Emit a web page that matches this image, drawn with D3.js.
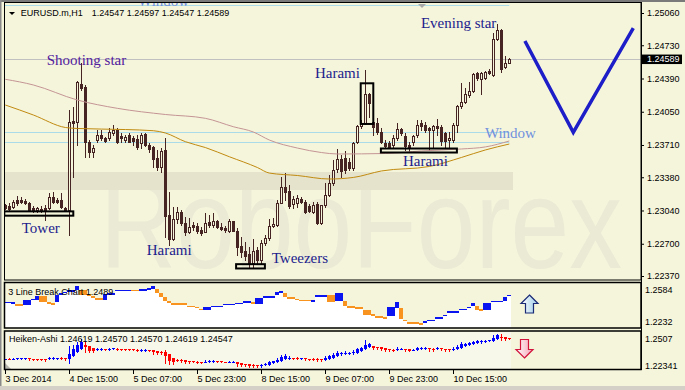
<!DOCTYPE html>
<html>
<head>
<meta charset="utf-8">
<script src="https://cdn.jsdelivr.net/npm/d3@7"></script>
<style>
  body { margin: 0; background: #f5f5dc; }
  svg { display: block; font-family: "Liberation Sans", Arial, sans-serif; }
</style>
</head>
<body>
<script>
// EURUSD.m H1 bars, first bar 3 Dec 2014 23:00
var opens = [1.23096,1.23086,1.23079,1.23147,1.23147,1.23137,1.23114,1.23063,1.23045,1.23055,
  1.23066,1.23063,1.23181,1.23147,1.23147,1.23063,1.23045,1.23955,1.23945,1.24334,
  1.24303,1.23741,1.23638,1.23761,1.23812,1.23782,1.23782,1.23833,1.23863,1.23802,
  1.23761,1.23812,1.23778,1.23771,1.23727,1.23822,1.23710,1.23687,1.23574,1.23488,
  1.23659,1.22994,1.22745,1.22950,1.23028,1.22915,1.22823,1.22889,1.22882,1.22841,
  1.22823,1.22922,1.22892,1.22936,1.22874,1.22858,1.22833,1.22930,1.22833,1.22677,
  1.22629,1.22595,1.22500,1.22636,1.22534,1.22711,1.22756,1.22882,1.22892,1.23120,
  1.23277,1.23243,1.23107,1.23114,1.23155,1.23130,1.23086,1.23028,1.23107,1.22909,
  1.23096,1.23199,1.23318,1.23461,1.23564,1.23574,1.23540,1.23472,1.23744,1.23904,
  1.23935,1.24232,1.23948,1.23938,1.23846,1.23727,1.23733,1.23710,1.23778,1.23871,
  1.23802,1.23710,1.23744,1.23812,1.23932,1.23915,1.23881,1.23863,1.23904,1.23891,
  1.23830,1.23761,1.23761,1.23915,1.24109,1.24153,1.24221,1.24265,1.24443,1.24382,
  1.24392,1.24470,1.24426,1.24791,1.24886,1.24505,1.24547];
var highs = [1.23107,1.23117,1.23147,1.23188,1.23178,1.23158,1.23130,1.23086,1.23079,1.23086,
  1.23096,1.23222,1.23232,1.23165,1.23216,1.23079,1.24068,1.24099,1.24365,1.24549,
  1.24324,1.23761,1.23710,1.23863,1.23863,1.23795,1.23881,1.23915,1.23881,1.23833,
  1.23812,1.23833,1.23802,1.23812,1.23830,1.23830,1.23727,1.23700,1.23659,1.23676,
  1.23778,1.23232,1.23079,1.23079,1.23045,1.22977,1.22960,1.22925,1.22909,1.22874,
  1.23011,1.22994,1.23011,1.22943,1.22909,1.22882,1.22950,1.22933,1.22858,1.22772,
  1.22721,1.22670,1.22745,1.22670,1.22738,1.22789,1.22950,1.22960,1.23147,1.23386,
  1.23427,1.23301,1.23188,1.23199,1.23181,1.23147,1.23107,1.23130,1.23130,1.23096,
  1.23318,1.23403,1.23557,1.23666,1.23608,1.23652,1.23574,1.23744,1.23915,1.23966,
  1.24477,1.24242,1.23986,1.23986,1.23884,1.23761,1.23754,1.23812,1.23932,1.23881,
  1.23830,1.23744,1.23812,1.23966,1.23966,1.23948,1.23897,1.23915,1.23973,1.23915,
  1.23846,1.23846,1.23932,1.24119,1.24341,1.24290,1.24357,1.24443,1.24460,1.24460,
  1.24470,1.24484,1.24852,1.24948,1.24893,1.24620,1.24597];
var lows = [1.23055,1.23045,1.23066,1.23096,1.23117,1.23107,1.23038,1.23028,1.23028,1.23028,
  1.22943,1.23052,1.23114,1.23114,1.23063,1.23038,1.22789,1.23383,1.23710,1.24272,
  1.23587,1.23587,1.23587,1.23741,1.23761,1.23744,1.23761,1.23812,1.23733,1.23744,
  1.23741,1.23741,1.23710,1.23666,1.23676,1.23700,1.23641,1.23482,1.23454,1.23437,
  1.22772,1.22687,1.22738,1.22909,1.22892,1.22789,1.22807,1.22841,1.22807,1.22789,
  1.22823,1.22874,1.22874,1.22858,1.22841,1.22823,1.22823,1.22830,1.22585,1.22568,
  1.22534,1.22465,1.22465,1.22500,1.22500,1.22687,1.22738,1.22874,1.22882,1.23114,
  1.23147,1.23063,1.23063,1.23079,1.23114,1.23011,1.23028,1.23011,1.22902,1.22902,
  1.23079,1.23188,1.23301,1.23437,1.23386,1.23420,1.23454,1.23454,1.23727,1.23884,
  1.23925,1.23996,1.23812,1.23822,1.23727,1.23679,1.23676,1.23676,1.23761,1.23812,
  1.23659,1.23641,1.23710,1.23795,1.23863,1.23846,1.23659,1.23676,1.23812,1.23710,
  1.23693,1.23693,1.23744,1.23846,1.24085,1.24137,1.24198,1.24255,1.24375,1.24232,
  1.24382,1.24436,1.24416,1.24784,1.24460,1.24494,1.24547];
var closes = [1.23066,1.23055,1.23130,1.23120,1.23124,1.23114,1.23045,1.23038,1.23063,1.23035,
  1.23045,1.23181,1.23130,1.23130,1.23079,1.23045,1.23945,1.23935,1.24354,1.24293,
  1.23741,1.23638,1.23679,1.23812,1.23782,1.23754,1.23843,1.23863,1.23744,1.23778,
  1.23795,1.23744,1.23754,1.23687,1.23812,1.23710,1.23666,1.23564,1.23488,1.23652,
  1.22984,1.22745,1.22950,1.23028,1.22909,1.22823,1.22874,1.22868,1.22833,1.22813,
  1.22915,1.22892,1.22933,1.22868,1.22848,1.22841,1.22930,1.22833,1.22670,1.22619,
  1.22575,1.22500,1.22629,1.22534,1.22711,1.22756,1.22882,1.22902,1.23120,1.23277,
  1.23232,1.23086,1.23155,1.23165,1.23130,1.23028,1.23038,1.23096,1.22909,1.23096,
  1.23199,1.23324,1.23454,1.23564,1.23447,1.23454,1.23472,1.23727,1.23904,1.23935,
  1.24232,1.24140,1.23897,1.23846,1.23744,1.23700,1.23693,1.23778,1.23871,1.23836,
  1.23700,1.23687,1.23802,1.23915,1.23904,1.23863,1.23863,1.23904,1.23881,1.23754,
  1.23754,1.23778,1.23915,1.24109,1.24153,1.24232,1.24265,1.24436,1.24392,1.24443,
  1.24460,1.24443,1.24791,1.24886,1.24484,1.24552,1.24589];

// moving averages, read at a few bars
var maSlowBars = [0,7,18,28,40,50,57,62,66,73,79,83,95,104,114,120,126];
var maSlow = [1.24382,1.24324,1.24170,1.24085,1.24022,1.23983,1.23897,1.23843,1.23761,
  1.23679,1.23633,1.23618,1.23623,1.23649,1.23669,1.23690,1.23751];
var maFastBars = [0,7,15,18,30,37,40,45,50,56,63,66,73,81,87,94,106,114,120,126];
var maFast = [1.24119,1.24017,1.23889,1.23879,1.23868,1.23856,1.23833,1.23744,1.23684,1.23590,
  1.23480,1.23423,1.23398,1.23362,1.23378,1.23444,1.23490,1.23582,1.23659,1.23720];

// 3 line break chart, segments of bars
var lbStart = [0,2,3,5,7,8,9,11,12,13,14,15,16,18,19,21,22,23,25,26,28,32,34,36,37,38,39,40,41,42,
  46,48,49,50,52,55,58,60,62,63,65,68,69,70,71,73,74,77,78,81,83,85,86,88,90,92,93,95,96,98,
  99,100,101,104,105,106,108,110,111,113,114,116,117,118,119,120,122,125,126];
var lbEnd = [1,2,4,6,7,8,10,11,12,13,14,15,17,18,20,21,22,24,25,27,31,33,35,36,37,38,39,40,41,45,
  47,48,49,51,54,57,59,61,62,64,67,68,69,70,72,73,76,77,80,82,84,85,87,89,91,92,94,95,97,98,
  99,100,103,104,105,107,109,110,112,113,115,116,117,118,119,121,124,125,126];
var lbTop = [1.2436,1.2432,1.2416,1.2450,1.2460,1.2480,1.2480,1.2432,1.2424,1.2490,1.2504,1.2516,1.2528,1.2560,1.2530,1.2496,1.2480,1.2464,1.2496,1.2504,
  1.2532,1.2532,1.2536,1.2544,1.2560,1.2538,1.2504,1.2470,1.2440,1.2424,1.2404,1.2396,1.2380,1.2390,1.2404,1.2420,1.2428,1.2440,1.2432,1.2464,
  1.2478,1.2512,1.2518,1.2504,1.2470,1.2460,1.2450,1.2450,1.2486,1.2486,1.2504,1.2438,1.2398,1.2390,1.2370,1.2336,1.2318,1.2310,1.2390,1.2432,
  1.2384,1.2290,1.2272,1.2264,1.2278,1.2290,1.2310,1.2330,1.2358,1.2360,1.2380,1.2396,1.2424,1.2398,1.2376,1.2424,1.2442,1.2470,1.2490];
var lbBottom = [1.2424,1.2416,1.2404,1.2406,1.2448,1.2450,1.2432,1.2416,1.2408,1.2432,1.2490,1.2504,1.2516,1.2530,1.2490,1.2480,1.2464,1.2448,1.2450,1.2492,
  1.2520,1.2520,1.2524,1.2532,1.2536,1.2504,1.2470,1.2438,1.2424,1.2408,1.2392,1.2384,1.2368,1.2370,1.2392,1.2408,1.2416,1.2428,1.2416,1.2416,
  1.2464,1.2490,1.2504,1.2470,1.2456,1.2448,1.2438,1.2432,1.2474,1.2432,1.2438,1.2398,1.2388,1.2378,1.2330,1.2324,1.2304,1.2298,1.2318,1.2384,
  1.2298,1.2278,1.2256,1.2252,1.2264,1.2278,1.2298,1.2320,1.2344,1.2348,1.2368,1.2384,1.2398,1.2370,1.2364,1.2370,1.2432,1.2442,1.2478];
var lbUp = [1,1,0,1,1,1,0,0,0,1,1,1,1,1,0,0,0,0,1,1,1,0,1,1,1,0,0,0,0,0,
  0,0,0,1,1,1,1,1,0,1,1,1,1,0,0,0,0,1,1,0,1,0,0,0,0,0,0,0,1,1,
  0,0,0,0,1,1,1,1,1,1,1,1,1,0,0,1,1,1,1];

var priceTicks = [1.25060,1.24730,1.24390,1.24050,1.23710,1.23380,1.23040,1.22700,1.22370];
var lastPrice = 1.24589;
var windowLevels = [1.23840, 1.23738];
var topLevel = 1.25142;
var timeTicks = [0,16,32,48,64,80,96,112];
var timeLabels = ['3 Dec 2014','4 Dec 15:00','5 Dec 07:00','5 Dec 23:00','8 Dec 15:00','9 Dec 07:00','9 Dec 23:00','10 Dec 15:00'];

// pattern notes: text, bar, price
var notes = [
  ['Shooting star', 10.35, 1.24528, '#52209c'],
  ['Harami', 77.4, 1.24395, '#1c1c8c'],
  ['Evening star', 103.9, 1.24907, '#1c1c8c'],
  ['Harami', 99.4, 1.23495, '#1c1c8c'],
  ['Tower', 4.1, 1.22813, '#1c1c8c'],
  ['Harami', 35.35, 1.22585, '#1c1c8c'],
  ['Tweezers', 66.6, 1.22503, '#1c1c8c'],
  ['Window', 119.9, 1.23777, '#7090dc'],
  ['Window', 33.2, 1.25132, '#7090dc']
];
// boxes: bar from, bar to, price top, price bottom
var boxes = [
  [-0.25, 17, 1.23031, 1.22987],
  [57.7, 64.9, 1.22491, 1.22447],
  [88.85, 92, 1.24341, 1.23925],
  [93.9, 112.9, 1.23674, 1.23633]
];
var vBars = [129.9, 142, 157];
var vPrices = [1.24774, 1.23840, 1.24906];

var W = 685, H = 390;
var bg = '#f5f5dc', candle = '#472424';
var n = closes.length;

var svg = d3.select('body').append('svg').attr('width', W).attr('height', H);
svg.append('rect').attr('width', W).attr('height', H).attr('fill', bg);

var x = d3.scaleLinear().domain([0, 126]).range([5.3, 509.3]);
var y = d3.scaleLinear().domain([1.22370, 1.25060]).range([276, 13]);
function px(i) { return Math.round(x(i)); }

var defs = svg.append('defs');
defs.append('clipPath').attr('id', 'clipMain').append('rect')
  .attr('x', 4.5).attr('y', 3).attr('width', 636).attr('height', 276.5);
defs.append('clipPath').attr('id', 'clipLb').append('rect')
  .attr('x', 4.5).attr('y', 283).attr('width', 636).attr('height', 44.5);
defs.append('clipPath').attr('id', 'clipHa').append('rect')
  .attr('x', 4.5).attr('y', 332).attr('width', 636).attr('height', 37);
var gUp = defs.append('linearGradient').attr('id', 'gUp').attr('x1', 0).attr('x2', 1);
gUp.append('stop').attr('offset', 0).attr('stop-color', '#ffffff');
gUp.append('stop').attr('offset', 1).attr('stop-color', '#9ccbe8');
var gDn = defs.append('linearGradient').attr('id', 'gDn').attr('x1', 0).attr('x2', 1);
gDn.append('stop').attr('offset', 0).attr('stop-color', '#ffffff');
gDn.append('stop').attr('offset', 1).attr('stop-color', '#f4a0b4');

// watermark
var main = svg.append('g').attr('clip-path', 'url(#clipMain)');
main.append('text').attr('x', 100).attr('y', 268)
  .attr('font-size', 128).attr('fill', '#eaead5')
  .attr('textLength', 522).attr('lengthAdjust', 'spacingAndGlyphs')
  .text('RoboForex');
main.append('rect').attr('x', 4).attr('y', 172).attr('width', 509).attr('height', 18)
  .attr('fill', '#e5e3cc');

// horizontal lines
main.selectAll('line.win').data(windowLevels.concat([topLevel])).enter().append('line')
  .attr('x1', 4).attr('x2', x(126))
  .attr('y1', d => Math.round(y(d)) + 0.5).attr('y2', d => Math.round(y(d)) + 0.5)
  .attr('stroke', '#a9dbe9').attr('stroke-width', 1);
main.append('line').attr('x1', 4).attr('x2', 641)
  .attr('y1', Math.round(y(lastPrice)) + 0.5).attr('y2', Math.round(y(lastPrice)) + 0.5)
  .attr('stroke', '#c0c0c0');

// candles
var bars = d3.range(n).map(function (i) {
  return { i: i, o: opens[i], h: highs[i], l: lows[i], c: closes[i] };
});
var cg = main.append('g').attr('shape-rendering', 'crispEdges');
cg.selectAll('line').data(bars).enter().append('line')
  .attr('x1', d => px(d.i) + 0.5).attr('x2', d => px(d.i) + 0.5)
  .attr('y1', d => Math.round(y(d.h))).attr('y2', d => Math.round(y(d.l)) + 1)
  .attr('stroke', candle);
cg.selectAll('rect').data(bars).enter().append('rect')
  .attr('x', d => px(d.i) - 0.5).attr('width', 2)
  .attr('y', d => Math.round(y(Math.max(d.o, d.c))) + 0.5)
  .attr('height', d => Math.max(1, Math.round(y(Math.min(d.o, d.c))) - Math.round(y(Math.max(d.o, d.c)))))
  .attr('fill', d => d.c >= d.o ? bg : candle)
  .attr('stroke', candle);

// moving averages
var maLine = d3.line().x(d => x(d[0])).y(d => y(d[1])).curve(d3.curveMonotoneX);
main.append('path').datum(d3.zip(maSlowBars, maSlow)).attr('d', maLine)
  .attr('fill', 'none').attr('stroke', '#c49494').attr('stroke-width', 1);
main.append('path').datum(d3.zip(maFastBars, maFast)).attr('d', maLine)
  .attr('fill', 'none').attr('stroke', '#c08a10').attr('stroke-width', 1);

// boxes
main.selectAll('rect.box').data(boxes).enter().append('rect')
  .attr('x', d => x(d[0])).attr('width', d => x(d[1]) - x(d[0]))
  .attr('y', d => y(d[2])).attr('height', d => y(d[3]) - y(d[2]))
  .attr('fill', 'none').attr('stroke', '#000').attr('stroke-width', 2);

// notes
main.selectAll('text.note').data(notes).enter().append('text')
  .attr('x', d => x(d[1])).attr('y', d => y(d[2]))
  .attr('font-family', '"Liberation Serif", "Times New Roman", serif')
  .attr('font-size', 15).attr('fill', d => d[3])
  .text(d => d[0]);

// V drawing
main.append('path').datum(d3.zip(vBars, vPrices))
  .attr('d', d3.line().x(d => x(d[0])).y(d => y(d[1])))
  .attr('fill', 'none').attr('stroke', '#1e1ec8').attr('stroke-width', 3.5)
  .attr('stroke-linejoin', 'miter');

// shift marker
main.append('path').attr('d', 'M418,4L426,4L422,8Z').attr('fill', '#a8a8a8');

// header
svg.append('path').attr('d', 'M9,12L15,12L12,15Z').attr('fill', '#000');
svg.append('text').attr('x', 20.7).attr('y', 15.7).attr('font-size', 9).text('EURUSD.m,H1');
svg.append('text').attr('x', 91.7).attr('y', 15.7).attr('font-size', 9)
  .text('1.24547 1.24597 1.24547 1.24589');

// price axis
var yAxis = d3.axisRight(y).tickValues(priceTicks).tickFormat(d3.format('.5f')).tickSize(3).tickPadding(3);
var ay = svg.append('g').attr('transform', 'translate(641,0)').call(yAxis);
ay.select('.domain').remove();
ay.selectAll('text').attr('font-family', '"Liberation Sans", Arial, sans-serif').attr('font-size', 9).attr('fill', '#000');
ay.selectAll('line').attr('stroke', '#000');
svg.append('rect').attr('x', 642).attr('y', y(lastPrice) - 4.5).attr('width', 40).attr('height', 9.5).attr('fill', '#000');
svg.append('text').attr('x', 647).attr('y', y(lastPrice) + 3.2).attr('font-size', 9).attr('fill', '#fff')
  .text(d3.format('.5f')(lastPrice));

// 3 line break panel
var yLb = d3.scaleLinear().domain([1.2232, 1.2584]).range([327, 283]);
var lb = d3.range(lbStart.length).map(function (k) {
  return { s: lbStart[k], e: lbEnd[k], t: lbTop[k], b: lbBottom[k], up: lbUp[k] };
});
var lbg = svg.append('g').attr('clip-path', 'url(#clipLb)').attr('shape-rendering', 'crispEdges');
lbg.selectAll('rect.wf').data(lb).enter().append('rect')
  .attr('x', d => px(d.s) - 2).attr('width', d => px(d.e) - px(d.s) + 4)
  .attr('y', d => yLb(d.b)).attr('height', d => 328 - yLb(d.b))
  .attr('fill', '#fff');
lbg.selectAll('rect.br').data(lb).enter().append('rect')
  .attr('x', d => px(d.s) - 2).attr('width', d => px(d.e) - px(d.s) + 4)
  .attr('y', d => yLb(d.t)).attr('height', d => Math.max(1.5, yLb(d.b) - yLb(d.t)))
  .attr('fill', d => d.up ? '#0a14f0' : '#f7931e');
svg.append('text').attr('x', 8.3).attr('y', 294.5).attr('font-size', 9).text('3 Line Break Chart 1.2489');
svg.append('text').attr('x', 645).attr('y', 293).attr('font-size', 9).text(d3.format('.4f')(yLb.domain()[1]));
svg.append('text').attr('x', 645).attr('y', 324.5).attr('font-size', 9).text(d3.format('.4f')(yLb.domain()[0]));
svg.append('path').attr('d', 'M529.5,295L538,303.5L533.5,303.5L533.5,313L525.5,313L525.5,303.5L521,303.5Z')
  .attr('fill', 'url(#gUp)').attr('stroke', '#1b2a74').attr('stroke-width', 1.2);

// Heiken-Ashi panel
var yHa = d3.scaleLinear().domain([1.22341, 1.2507]).range([369, 332]);
var ha = [];
bars.forEach(function (d, i) {
  var c = (d.o + d.h + d.l + d.c) / 4;
  var o = i ? (ha[i - 1].o + ha[i - 1].c) / 2 : (d.o + d.c) / 2;
  ha.push({ i: i, o: o, c: c, h: Math.max(d.h, o, c), l: Math.min(d.l, o, c) });
});
svg.append('rect').attr('x', 5).attr('y', 332).attr('width', 506).attr('height', 37).attr('fill', '#f8f8ea');
var hg = svg.append('g').attr('clip-path', 'url(#clipHa)').attr('shape-rendering', 'crispEdges');
hg.selectAll('line').data(ha).enter().append('line')
  .attr('x1', d => px(d.i) + 0.5).attr('x2', d => px(d.i) + 0.5)
  .attr('y1', d => yHa(d.h)).attr('y2', d => yHa(d.l) + 1)
  .attr('stroke', d => d.c >= d.o ? '#0000ff' : '#ff0000');
hg.selectAll('rect').data(ha).enter().append('rect')
  .attr('x', d => px(d.i) - 1).attr('width', 3)
  .attr('y', d => yHa(Math.max(d.o, d.c)))
  .attr('height', d => Math.max(1, Math.abs(yHa(d.o) - yHa(d.c))))
  .attr('fill', d => d.c >= d.o ? '#0000ff' : '#ff0000');
svg.append('text').attr('x', 9).attr('y', 342).attr('font-size', 9)
  .text('Heiken-Ashi 1.24619 1.24570 1.24570 1.24619 1.24547');
svg.append('text').attr('x', 645).attr('y', 341.5).attr('font-size', 9).text('1.2507');
svg.append('text').attr('x', 645).attr('y', 368.5).attr('font-size', 9).text('1.22341');
svg.append('path').attr('d', 'M524.5,358L533,349.5L528.5,349.5L528.5,339.5L520.5,339.5L520.5,349.5L516,349.5Z')
  .attr('fill', 'url(#gDn)').attr('stroke', '#d2143c').attr('stroke-width', 1.2);
svg.append('path').attr('d', 'M5,363L5,369L11,369Z').attr('fill', '#b8b8b0');

// frames
svg.append('rect').attr('x', 4.5).attr('y', 2.5).attr('width', 636.5).attr('height', 277.5)
  .attr('fill', 'none').attr('stroke', '#000');
svg.append('rect').attr('x', 4.5).attr('y', 282.5).attr('width', 636.5).attr('height', 45.5)
  .attr('fill', 'none').attr('stroke', '#000').attr('stroke-width', 1.5);
svg.append('rect').attr('x', 4.5).attr('y', 331).attr('width', 636.5).attr('height', 38.5)
  .attr('fill', 'none').attr('stroke', '#000').attr('stroke-width', 1.5);
svg.append('line').attr('x1', 641.5).attr('x2', 641.5).attr('y1', 2).attr('y2', 370).attr('stroke', '#000');
svg.append('rect').attr('x', 0).attr('y', 0).attr('width', W).attr('height', 2).attr('fill', '#7a7a7a');
svg.append('rect').attr('x', 0).attr('y', 0).attr('width', 1.5).attr('height', H).attr('fill', '#8a8a8a');
svg.append('rect').attr('x', 0).attr('y', 386).attr('width', W).attr('height', 4).attr('fill', '#d4d0c8');

// time axis
var tg = svg.append('g');
tg.selectAll('line').data(timeTicks).enter().append('line')
  .attr('x1', d => px(d) + 0.5).attr('x2', d => px(d) + 0.5)
  .attr('y1', 370).attr('y2', 374).attr('stroke', '#000');
tg.selectAll('text').data(timeTicks).enter().append('text')
  .attr('x', d => px(d) + 0.5).attr('y', 382).attr('font-size', 9)
  .text((d, k) => timeLabels[k]);
</script>
</body>
</html>
